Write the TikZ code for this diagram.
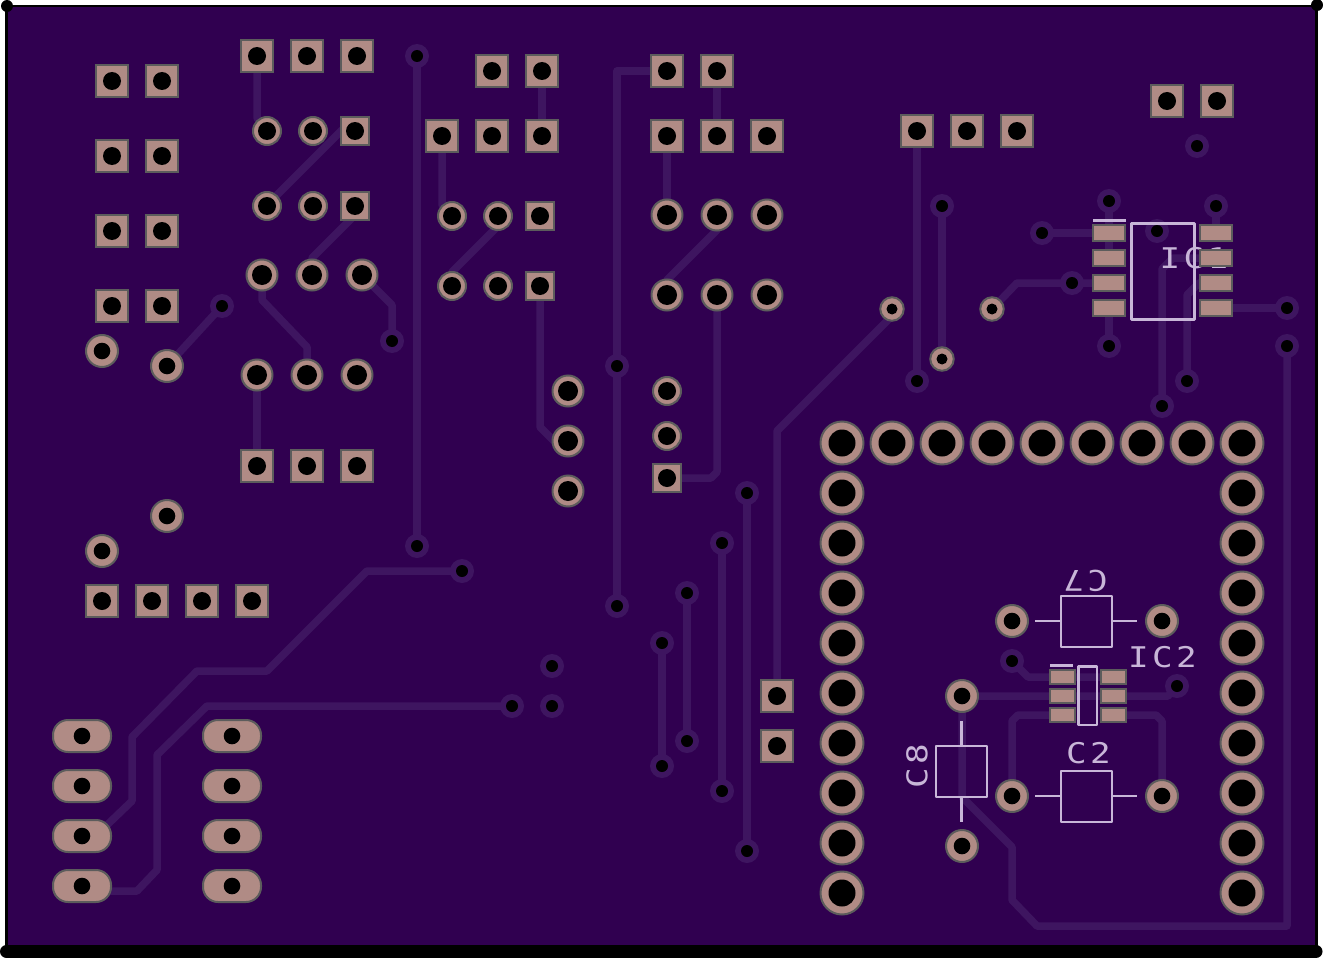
\documentclass[tikz,border=0pt]{standalone}
\usepackage{fontspec}
\usepackage{xcolor}
\usetikzlibrary{positioning}
\newfontfamily\silkfont[LetterSpace=12,FakeStretch=1.2]{DejaVu Sans Mono}
\definecolor{boardcol}{HTML}{300050}
\definecolor{tracecol}{HTML}{3E1560}
\definecolor{padcol}{HTML}{B08B85}
\definecolor{rimcol}{HTML}{5C5C5C}
\definecolor{silkcol}{HTML}{C8B6D8}
\begin{document}
\begin{tikzpicture}[x=1pt,y=-1pt,
	pad/.style={draw=rimcol,fill=padcol,line width=2pt,inner sep=0pt,outer sep=0pt},
	sqbig/.style={pad,rectangle,minimum size=32pt},
	sqsmall/.style={pad,rectangle,minimum size=28pt},
	oblong/.style={pad,rectangle,rounded corners=15pt,minimum width=58pt,minimum height=32pt},
	smdA/.style={pad,rectangle,minimum width=32pt,minimum height=16pt},
	smdB/.style={pad,rectangle,minimum width=25pt,minimum height=14pt},
	roundpad/.style={pad,circle,minimum size=#1},
	via/.style={circle,fill=tracecol,inner sep=0pt,minimum size=24pt},
	trace/.style={draw=tracecol,line width=7.5pt,line join=round,line cap=round},
	silk/.style={draw=silkcol,line width=2.5pt,line join=round},
	silkthick/.style={draw=silkcol,line width=3pt,line join=round},
	silktext/.style={text=silkcol,inner sep=0pt,font=\silkfont\fontsize{28.5}{28.5}\selectfont}]
	\useasboundingbox (0,0) rectangle (1323,958);
	\fill[boardcol] (8,7) rectangle (1315,945);
	% traces
	\draw[trace] (257,56) -- (257,118) -- (267,131);
	\draw[trace] (342,130) -- (267,205);
	\draw[trace] (355,215) -- (312,258) -- (312,275);
	\draw[trace] (262,275) -- (262,300) -- (307,347) -- (307,375);
	\draw[trace] (362,275) -- (392,305) -- (392,341);
	\draw[trace] (222,306) -- (167,366);
	\draw[trace] (257,375) -- (257,466);
	\draw[trace] (417,56) -- (417,546);
	\draw[trace] (542,71) -- (542,136);
	\draw[trace] (442,136) -- (442,205) -- (452,216);
	\draw[trace] (498,226) -- (452,272) -- (452,286);
	\draw[trace] (540,286) -- (540,427) -- (554,441) -- (568,441);
	\draw[trace] (667,71) -- (617,71) -- (617,606);
	\draw[trace] (717,71) -- (717,136);
	\draw[trace] (667,136) -- (667,215);
	\draw[trace] (717,230) -- (667,280) -- (667,295);
	\draw[trace] (667,478) -- (711,478) -- (717,472) -- (717,295);
	\draw[trace] (747,493) -- (747,851);
	\draw[trace] (722,543) -- (722,791);
	\draw[trace] (687,593) -- (687,741);
	\draw[trace] (662,643) -- (662,766);
	\draw[trace] (892,316) -- (777,431) -- (777,696);
	\draw[trace] (917,131) -- (917,381);
	\draw[trace] (942,206) -- (942,359);
	\draw[trace] (992,309) -- (1017,283) -- (1109,283);
	\draw[trace] (1042,233) -- (1109,233);
	\draw[trace] (1109,201) -- (1109,258);
	\draw[trace] (1109,308) -- (1109,346);
	\draw[trace] (1216,206) -- (1216,233);
	\draw[trace] (1216,308) -- (1287,308);
	\draw[trace] (1162,406) -- (1162,269) -- (1173,258) -- (1216,258);
	\draw[trace] (1187,381) -- (1187,295) -- (1199,283) -- (1216,283);
	\draw[trace] (1287,346) -- (1287,926) -- (1037,926) -- (1012,900) -- (1012,847) -- (962,797) -- (962,696);
	\draw[trace] (1012,661) -- (1028,677) -- (1113,677);
	\draw[trace] (962,696) -- (1168,696) -- (1177,686);
	\draw[trace] (1062,715) -- (1018,715) -- (1012,721) -- (1012,796);
	\draw[trace] (1113,715) -- (1156,715) -- (1162,721) -- (1162,796);
	\draw[trace] (82,836) -- (107,825) -- (132,801) -- (132,737) -- (197,671) -- (267,671) -- (367,571) -- (462,571);
	\draw[trace] (82,891) -- (137,891) -- (157,870) -- (157,755) -- (207,706) -- (512,706);
	% vias
	\foreach \x/\y [count=\n] in {417/56,222/306,392/341,417/546,462/571,617/366,617/606,747/493,722/543,687/593,662/643,687/741,662/766,722/791,747/851,552/666,552/706,512/706,942/206,917/381,1197/146,1109/201,1216/206,1042/233,1157/231,1072/283,1287/308,1287/346,1109/346,1187/381,1162/406,1012/661,1177/686}{
	    \node[via] (via\n) at (\x,\y) {};
	    \fill (via\n) circle[radius=6];
	}
	% silkscreen
	\draw[silkthick] (1131,223) rectangle (1194,319);
	\draw[silkthick] (1093,220) -- (1126,220);
	\draw[silk] (1078.5,666.5) rectangle (1097,725);
	\draw[silkthick] (1050,665) -- (1073,665);
	\draw[silk] (1061,596) rectangle (1112,647) (1035,621) -- (1061,621) (1112,621) -- (1137,621);
	\draw[silk] (1061,771) rectangle (1112,822) (1035,796) -- (1061,796) (1112,796) -- (1137,796);
	\draw[silk] (936,746) rectangle (987,797) (961.5,721) -- (961.5,746) (961.5,797) -- (961.5,822);
	\node[silktext] (labelIC1) at (1194,258) {IC1};
	\node[silktext] (labelIC2) at (1162.5,657) {IC2};
	\node[silktext,rotate=180] (labelC7) at (1085.5,581) {C7};
	\node[silktext] (labelC2) at (1088.5,753) {C2};
	\node[silktext,rotate=90] (labelC8) at (917,766) {C8};
	% pads
	\foreach \x/\y [count=\n] in {112/81,162/81,112/156,162/156,112/231,162/231,112/306,162/306,257/56,307/56,357/56,492/71,542/71,442/136,492/136,542/136,667/71,717/71,667/136,717/136,767/136,917/131,967/131,1017/131,1167/101,1217/101,257/466,307/466,357/466,102/601,152/601,202/601,252/601,777/696,777/746}{
	    \node[sqbig] (sqbig\n) at (\x,\y) {};
	    \fill (sqbig\n) circle[radius=9];
	}
	\foreach \x/\y [count=\n] in {355/131,355/206,540/216,540/286,667/478}{
	    \node[sqsmall] (sqsmall\n) at (\x,\y) {};
	    \fill (sqsmall\n) circle[radius=9];
	}
	\foreach \x/\y [count=\n] in {267/131,313/131,267/206,313/206,452/216,498/216,452/286,498/286,667/391,667/436}{
	    \node[roundpad=28pt] (rndA\n) at (\x,\y) {};
	    \fill (rndA\n) circle[radius=9];
	}
	\foreach \x/\y [count=\n] in {262/275,312/275,362/275,257/375,307/375,357/375,568/391,568/441,568/491,667/215,717/215,767/215,667/295,717/295,767/295}{
	    \node[roundpad=31pt] (rndB\n) at (\x,\y) {};
	    \fill (rndB\n) circle[radius=10];
	}
	\foreach \x/\y [count=\n] in {102/351,167/366,167/516,102/551,1012/621,1162/621,962/696,1012/796,1162/796,962/846}{
	    \node[roundpad=32pt] (rndC\n) at (\x,\y) {};
	    \fill (rndC\n) circle[radius=8.3];
	}
	\foreach \x/\y [count=\n] in {892/309,942/359,992/309}{
	    \node[roundpad=23.5pt] (rndD\n) at (\x,\y) {};
	    \fill (rndD\n) circle[radius=5.5];
	}
	\foreach \x in {842,892,...,1242}{
	    \node[roundpad=43pt] (top\x) at (\x,443) {};
	    \fill (top\x) circle[radius=13.5];
	}
	\foreach \y in {493,543,...,893}{
	    \node[roundpad=43pt] (left\y) at (842,\y) {};
	    \fill (left\y) circle[radius=13.5];
	    \node[roundpad=43pt] (right\y) at (1242,\y) {};
	    \fill (right\y) circle[radius=13.5];
	}
	\foreach \y in {736,786,836,886}{
	    \node[oblong] (obA\y) at (82,\y) {};
	    \fill (obA\y) circle[radius=8.3];
	    \node[oblong] (obB\y) at (232,\y) {};
	    \fill (obB\y) circle[radius=8.3];
	}
	\foreach \y in {233,258,283,308}{
	    \node[smdA] (icaL\y) at (1109,\y) {};
	    \node[smdA] (icaR\y) at (1216,\y) {};
	}
	\foreach \y in {677,696,715}{
	    \node[smdB] (icbL\y) at (1062.5,\y) {};
	    \node[smdB] (icbR\y) at (1113,\y) {};
	}
	% outline
	\draw[line width=3pt] (6.5,6) -- (6.5,951);
	\draw[line width=2.5pt] (6.5,6) -- (1316.5,6);
	\draw[line width=3pt] (1316.5,6) -- (1316.5,951);
	\draw[line width=13pt,line cap=round] (6.5,951.5) -- (1316,951.5);
	\fill (7,6) circle[radius=6];
	\fill (1317,5) circle[radius=6];
\end{tikzpicture}
\end{document}
